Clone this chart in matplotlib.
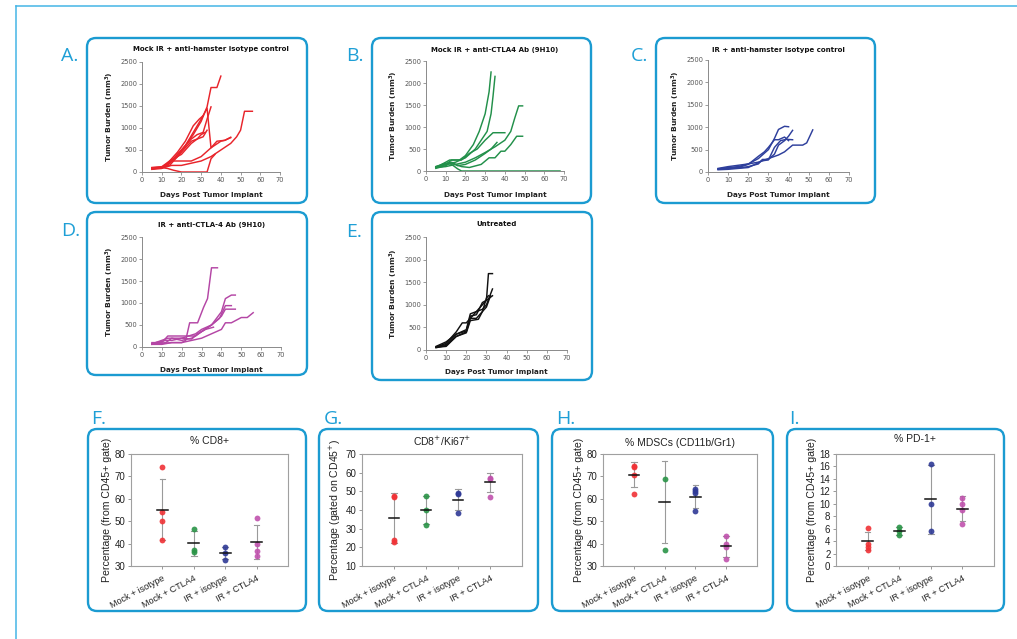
import matplotlib
matplotlib.use('Agg')
import matplotlib.pyplot as plt
from matplotlib.patches import FancyBboxPatch
from matplotlib.lines import Line2D
from matplotlib.transforms import IdentityTransform

# ---------------- DATA ----------------
# Tumor growth curves: (days, volume mm3)
A_curves = [
    ([5, 10, 14, 18, 22, 26, 30, 33, 35, 38, 40], [90, 110, 200, 400, 600, 850, 1150, 1480, 1920, 1920, 2180]),
    ([5, 10, 14, 18, 22, 26, 30, 33, 35, 38, 42, 45], [80, 90, 150, 350, 600, 900, 1200, 1450, 550, 700, 720, 790]),
    ([5, 10, 15, 20, 25, 28, 31, 33, 35], [70, 100, 250, 500, 750, 850, 900, 1200, 1480]),
    ([5, 10, 14, 18, 22, 26, 29, 31], [60, 80, 250, 450, 700, 1050, 1200, 1280]),
    ([5, 10, 14, 18, 22, 25, 28, 30, 32], [80, 100, 200, 350, 550, 700, 750, 850, 900]),
    ([5, 10, 15, 20, 25, 28, 31, 33], [100, 120, 280, 400, 650, 750, 800, 950]),
    ([5, 10, 13, 15, 20, 25, 30, 35, 40, 42, 45], [100, 110, 150, 250, 250, 250, 350, 550, 700, 720, 780]),
    ([5, 10, 15, 20, 25, 30, 35, 40, 45, 48, 50, 52, 56], [80, 90, 150, 150, 200, 250, 350, 500, 650, 800, 950, 1380, 1380]),
    ([5, 10, 13, 16, 20, 33, 35, 37], [90, 100, 80, 40, 0, 0, 300, 400]),
]
B_curves = [
    ([5, 10, 13, 17, 20, 24, 27, 30, 32, 33], [100, 150, 250, 250, 350, 600, 900, 1300, 1800, 2250]),
    ([5, 10, 15, 20, 25, 28, 31, 33, 34, 35], [80, 150, 200, 300, 500, 700, 900, 1300, 1700, 2150]),
    ([5, 10, 12, 18, 22, 26, 30, 34, 36, 40], [80, 200, 250, 250, 400, 500, 700, 870, 870, 870]),
    ([5, 10, 15, 20, 25, 30, 35, 40, 43, 45, 47, 49], [80, 100, 150, 200, 300, 420, 550, 700, 900, 1200, 1480, 1480]),
    ([5, 10, 12, 15, 18, 22, 28, 32, 35, 38, 40, 43, 46, 49], [80, 150, 200, 150, 100, 80, 150, 300, 300, 450, 450, 600, 790, 790]),
    ([5, 10, 13, 16, 18, 30, 50, 68], [100, 180, 150, 50, 0, 0, 0, 0]),
    ([5, 10, 13, 16, 20, 25, 30, 33, 36], [60, 120, 200, 120, 150, 250, 400, 500, 650]),
]
C_curves = [
    ([5, 10, 15, 20, 25, 30, 33, 35, 38, 40], [70, 100, 120, 180, 300, 500, 750, 950, 1020, 1010]),
    ([5, 10, 15, 20, 25, 28, 30, 33, 35, 38, 40], [60, 80, 100, 170, 350, 450, 550, 720, 720, 780, 700]),
    ([5, 10, 15, 20, 25, 27, 30, 33, 35, 38, 40, 42], [70, 80, 90, 120, 180, 280, 280, 400, 600, 700, 800, 930]),
    ([5, 10, 15, 20, 27, 30, 33, 36, 39, 42], [50, 60, 80, 100, 250, 270, 550, 700, 730, 720]),
    ([5, 10, 15, 20, 25, 30, 35, 38, 42, 47, 49, 52], [80, 120, 150, 180, 220, 300, 380, 450, 600, 600, 650, 940]),
]
D_curves = [
    ([5, 10, 15, 20, 22, 24, 28, 31, 33, 35, 38], [80, 80, 100, 100, 150, 550, 550, 900, 1100, 1800, 1800]),
    ([5, 10, 13, 20, 27, 30, 35, 40, 42, 45, 47], [100, 100, 250, 250, 250, 350, 500, 800, 1100, 1180, 1180]),
    ([5, 12, 15, 20, 25, 30, 35, 39, 42, 45], [60, 100, 200, 150, 200, 350, 500, 650, 940, 940]),
    ([5, 12, 15, 20, 27, 30, 35, 40, 42, 47], [80, 150, 150, 200, 300, 400, 500, 700, 860, 860]),
    ([5, 10, 15, 20, 25, 30, 35, 40, 42, 45, 50, 53, 56], [60, 60, 100, 100, 150, 200, 300, 400, 550, 550, 670, 670, 780]),
    ([5, 13, 20, 25, 28, 32, 36], [70, 200, 200, 180, 300, 400, 450]),
]
E_curves = [
    ([5, 10, 15, 18, 20, 22, 25, 28, 30, 31, 33], [60, 150, 400, 600, 600, 700, 850, 1000, 1100, 1690, 1690]),
    ([5, 10, 15, 20, 22, 25, 28, 30, 33], [80, 180, 350, 450, 800, 850, 900, 1000, 1350]),
    ([5, 10, 15, 20, 22, 25, 28, 30, 31], [50, 100, 300, 400, 700, 700, 850, 1150, 1200]),
    ([5, 10, 15, 20, 22, 25, 28, 30, 33], [70, 120, 350, 420, 750, 780, 1050, 1100, 1200]),
    ([5, 10, 15, 20, 22, 26, 28, 30, 32], [60, 80, 300, 380, 650, 680, 850, 950, 1200]),
]

groups = ['Mock + isotype', 'Mock + CTLA4', 'IR + isotype', 'IR + CTLA4']

F_points = [[74.2, 54, 50, 41.8], [46.5, 37, 36.3], [38.3, 36, 32.5], [51.3, 40, 36.5, 34.3]]
F_means = [55.2, 40.1, 35.8, 40.7]
F_sds = [13.6, 5.6, 2.5, 7.4]

G_points = [[47.5, 47, 24, 23], [47.3, 40, 32], [49, 48.5, 38.5], [57, 56.5, 47]]
G_means = [35.8, 40.0, 45.5, 54.8]
G_sds = [13.3, 7.6, 5.6, 5.0]

H_points = [[74.5, 74, 70.5, 62], [68.8, 37], [64.5, 63.5, 62.5, 54.5], [43.5, 40, 38.5, 33]]
H_means = [70.8, 58.5, 61.0, 38.8]
H_sds = [5.6, 18.2, 5.0, 4.8]

I_points = [[6.1, 3.5, 3.0, 2.6], [6.3, 5.6, 5.0], [16.4, 10.0, 5.6], [11.0, 9.9, 9.0, 6.7]]
I_means = [4.0, 5.6, 10.7, 9.2]
I_sds = [1.4, 0.6, 5.5, 2.0]

# ---------------- STYLE ----------------
W, H = 1017, 639
BOX = '#1b9bd1'
FRAME = '#45b5e6'
LET = '#1e9fd6'
grp_colors = ['#f03236', '#2a9447', '#2f3a96', '#c052ad']

fig = plt.figure(figsize=(W / 100, H / 100), dpi=100)
ID = IdentityTransform()


def fx(x):
    return x / W


def fy(y):
    return 1 - y / H


def axes_px(x0, y0, x1, y1):
    return fig.add_axes([fx(x0), fy(y1), (x1 - x0) / W, (y1 - y0) / H])


def box_px(x0, y0, x1, y1):
    p = FancyBboxPatch((x0, H - y1), x1 - x0, y1 - y0,
                       boxstyle="round,pad=0,rounding_size=9",
                       transform=ID, fill=False, ec=BOX, lw=1.7)
    fig.add_artist(p)


def letter(x, y, s):
    fig.text(fx(x), fy(y), s, color=LET, fontsize=14, family='Open Sans',
             ha='left', va='center')


# outer frame
fig.add_artist(Line2D([15.5, W], [H - 6, H - 6], transform=ID, color=FRAME, lw=1.1))
fig.add_artist(Line2D([15.5, 15.5], [H - 6, 0], transform=ID, color=FRAME, lw=1.1))


def tumor_panel(ax_rect, curves, color, title, title_y, xlabel_y):
    x0, y0, x1, y1 = ax_rect
    ax = axes_px(x0, y0, x1, y1)
    for d, v in curves:
        ax.plot(d, v, color=color, lw=1.05, solid_joinstyle='round')
    ax.set_xlim(0, 70)
    ax.set_ylim(0, 2500)
    ax.set_xticks(range(0, 71, 10))
    ax.set_yticks(range(0, 2501, 500))
    for s in ['top', 'right']:
        ax.spines[s].set_visible(False)
    for s in ['left', 'bottom']:
        ax.spines[s].set_color('#8a8a8a')
        ax.spines[s].set_linewidth(0.7)
    ax.tick_params(length=2, width=0.6, color='#8a8a8a', labelsize=4.8,
                   labelcolor='#555555', pad=1.5)
    ax.set_facecolor('none')
    ax.set_ylabel(r'Tumor Burden (mm$^{\mathbf{3}}$)', fontsize=5.4,
                  fontweight='bold', color='#222222', labelpad=3)
    cx = (x0 + x1) / 2
    fig.text(fx(cx), fy(title_y), title, fontsize=5.0, fontweight='bold',
             ha='center', va='center', color='#111111')
    fig.text(fx(cx), fy(xlabel_y), 'Days Post Tumor Implant', fontsize=5.2,
             fontweight='bold', ha='center', va='center', color='#222222')
    return ax


# boxes
box_px(87, 38, 307, 203)
box_px(372, 38, 591, 203)
box_px(656, 38, 875, 203)
box_px(87, 212, 307, 375)
box_px(372, 212, 592, 380)
box_px(88, 429, 306, 611)
box_px(319, 429, 538, 611)
box_px(552, 429, 773, 611)
box_px(787, 429, 1004, 611)

letter(61, 56, 'A.')
letter(346, 56, 'B.')
letter(631, 56, 'C.')
letter(61, 231, 'D.')
letter(346, 232, 'E.')
letter(91, 419, 'F.')
letter(324, 419, 'G.')
letter(556, 419, 'H.')
letter(789, 419, 'I.')

tumor_panel((142, 62, 280, 172), A_curves, '#e8242b', 'Mock IR + anti-hamster isotype control', 49, 195)
tumor_panel((426, 61, 564, 171), B_curves, '#22904a', 'Mock IR + anti-CTLA4 Ab (9H10)', 50, 195)
tumor_panel((708, 60, 849, 172), C_curves, '#2e3f9c', 'IR + anti-hamster isotype control', 50, 195)
tumor_panel((142, 237, 281, 347), D_curves, '#b446a5', 'IR + anti-CTLA-4 Ab (9H10)', 225, 370)
tumor_panel((426, 237, 567, 350), E_curves, '#111111', 'Untreated', 224, 372)


def scatter_panel(ax_rect, points, means, sds, ylim, ystep, title, ylabel, title_y):
    x0, y0, x1, y1 = ax_rect
    ax = axes_px(x0, y0, x1, y1)
    xs = list(range(1, len(groups) + 1))
    for i, x in enumerate(xs):
        m, s = means[i], sds[i]
        ax.plot([x, x], [m - s, m + s], color='#9a9a9a', lw=0.8, zorder=2)
        for yy in (m - s, m + s):
            ax.plot([x - 0.09, x + 0.09], [yy, yy], color='#9a9a9a', lw=0.8, zorder=2)
        ax.plot([x] * len(points[i]), points[i], 'o', ms=4.2, color=grp_colors[i],
                mec='none', alpha=0.9, zorder=3)
        ax.plot([x - 0.17, x + 0.17], [m, m], color='#111111', lw=1.1, zorder=4)
    ax.set_xlim(0, 5)
    ax.set_ylim(*ylim)
    ax.set_yticks(list(range(ylim[0], ylim[1] + 1, ystep)))
    ax.set_xticks(xs)
    ax.set_xticklabels(groups, rotation=28, ha='right', va='top',
                       rotation_mode='anchor', fontsize=6.5, family='Liberation Sans')
    for lab in ax.get_yticklabels():
        lab.set_family('Liberation Sans')
    for s in ax.spines.values():
        s.set_color('#a0a0a0')
        s.set_linewidth(0.8)
    ax.tick_params(axis='y', length=2.5, width=0.6, color='#888888', labelsize=7, pad=1.5,
                   labelcolor='#222222')
    ax.tick_params(axis='x', length=2.5, width=0.6, color='#888888', pad=3,
                   labelcolor='#222222')
    ax.set_ylabel(ylabel, fontsize=7.6, family='Liberation Sans', color='#222222', labelpad=2)
    fig.text(fx((x0 + x1) / 2), fy(title_y), title, fontsize=7.5, family='Liberation Sans',
             ha='center', va='center', color='#222222')
    return ax


scatter_panel((131, 454, 288, 566), F_points, F_means, F_sds, (30, 80), 10,
              '% CD8+', 'Percentage (from CD45+ gate)', 441)
scatter_panel((362, 454, 522, 566), G_points, G_means, G_sds, (10, 70), 10,
              r'CD8$^{+}$/Ki67$^{+}$', r'Percentage (gated on CD45$^{+}$)', 441)
scatter_panel((603, 454, 757, 566), H_points, H_means, H_sds, (30, 80), 10,
              '% MDSCs (CD11b/Gr1)', 'Percentage (from CD45+ gate)', 443)
scatter_panel((836, 454, 994, 566), I_points, I_means, I_sds, (0, 18), 2,
              '% PD-1+', 'Percentage (from CD45+ gate)', 439)

fig.savefig('out.png', dpi=100)
